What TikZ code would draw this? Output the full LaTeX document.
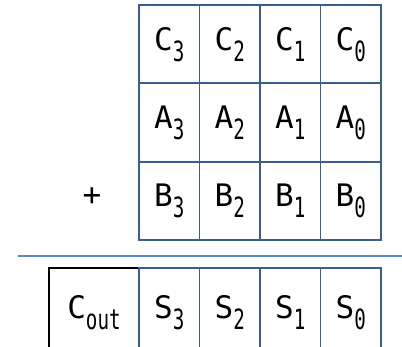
\documentclass[tikz,border=0pt]{standalone}
\usepackage{fontspec}
\setmonofont{DejaVu Sans Mono}
\definecolor{gridblue}{HTML}{3C5E8F}
\definecolor{sepblue}{HTML}{5B87C0}
\newcommand{\bitlbl}[2]{#1\raisebox{-11pt}{\scalebox{0.62}[0.9]{#2}}}
\tikzset{
  cell/.style={draw=gridblue, line width=1.8pt, minimum width=60.5pt, minimum height=78.3pt,
    inner sep=0pt, font=\ttfamily\fontsize{31}{33}\selectfont},
  sumcell/.style={cell, minimum height=82pt, text depth=4pt},
  coutcell/.style={sumcell, draw=black, minimum width=90pt},
  sepline/.style={draw=sepblue, line width=1.3pt},
  plussign/.style={inner sep=0pt, font=\ttfamily\fontsize{31}{33}\selectfont}
}
\begin{document}
\begin{tikzpicture}[x=1pt,y=1pt]
\useasboundingbox (0,0) rectangle (402,-346);
\clip (0,0) rectangle (402,-346);
% row C
\node[cell] (c3) at (169.25,-44.2) {\bitlbl{C}{3}};
\node[cell] (c2) at (229.75,-44.2) {\bitlbl{C}{2}};
\node[cell] (c1) at (290.25,-44.2) {\bitlbl{C}{1}};
\node[cell] (c0) at (350.75,-44.2) {\bitlbl{C}{0}};
% row A
\node[cell] (a3) at (169.25,-122.5) {\bitlbl{A}{3}};
\node[cell] (a2) at (229.75,-122.5) {\bitlbl{A}{2}};
\node[cell] (a1) at (290.25,-122.5) {\bitlbl{A}{1}};
\node[cell] (a0) at (350.75,-122.5) {\bitlbl{A}{0}};
% row B
\node[cell] (b3) at (169.25,-200.8) {\bitlbl{B}{3}};
\node[cell] (b2) at (229.75,-200.8) {\bitlbl{B}{2}};
\node[cell] (b1) at (290.25,-200.8) {\bitlbl{B}{1}};
\node[cell] (b0) at (350.75,-200.8) {\bitlbl{B}{0}};
% plus
\node[plussign] (plus) at (92,-197) {+};
% separator
\coordinate (sepL) at (18,-256);
\coordinate (sepR) at (402,-256);
\draw[sepline] (sepL) -- (sepR);
% sum row
\node[coutcell] (cout) at (94,-309) {\bitlbl{C}{out}};
\node[sumcell] (s3) at (169.25,-309) {\bitlbl{S}{3}};
\node[sumcell] (s2) at (229.75,-309) {\bitlbl{S}{2}};
\node[sumcell] (s1) at (290.25,-309) {\bitlbl{S}{1}};
\node[sumcell] (s0) at (350.75,-309) {\bitlbl{S}{0}};
\end{tikzpicture}
\end{document}
